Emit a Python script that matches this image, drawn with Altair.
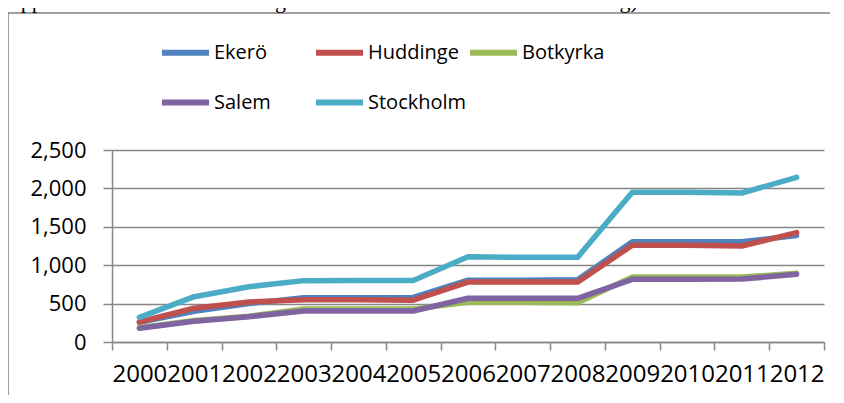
import altair as alt
import pandas as pd

years = ["2000", "2001", "2002", "2003", "2004", "2005", "2006",
         "2007", "2008", "2009", "2010", "2011", "2012"]
series_names = ["Ekerö", "Huddinge", "Botkyrka", "Salem", "Stockholm"]
ekero = [255, 400, 500, 577, 577, 580, 805, 805, 810, 1305, 1305, 1305, 1385]
huddinge = [260, 440, 520, 550, 550, 545, 780, 780, 780, 1260, 1260, 1250, 1425]
botkyrka = [185, 280, 335, 430, 430, 430, 516, 516, 512, 846, 846, 846, 894]
salem = [178, 270, 330, 404, 404, 404, 569, 569, 569, 816, 816, 820, 881]
stockholm = [321, 590, 720, 799, 800, 800, 1111, 1102, 1102, 1949, 1949, 1940, 2144]
colors = ["#4F81BD", "#C0504D", "#9BBB59", "#8064A2", "#4BACC6"]
y_ticks = [0, 500, 1000, 1500, 2000, 2500]
top_text = "r upplåtelserna avser fritidsfastigheter som inte behandlas i detta förslag)."

rows = []
for name, vals in zip(series_names, [ekero, huddinge, botkyrka, salem, stockholm]):
    for yr, v in zip(years, vals):
        rows.append({"year": yr, "series": name, "value": v})
df = pd.DataFrame(rows)

grey = "#868686"
font = "Open Sans"

lines = alt.Chart(df).mark_line(strokeWidth=5.5, strokeCap="round", strokeJoin="round").encode(
    x=alt.X("year:O", sort=years, bandPosition=0.5,
            scale=alt.Scale(type="band", paddingInner=0, paddingOuter=0),
            axis=alt.Axis(title=None, labelAngle=0, labelOverlap=False, labelFlush=False,
                          tickBand="extent", grid=False, tickSize=8, labelPadding=12,
                          labelFontSize=24, labelFont=font, labelColor="black",
                          domainColor=grey, tickColor=grey, domainWidth=1.5, tickWidth=1.5)),
    y=alt.Y("value:Q", scale=alt.Scale(domain=[0, 2500], nice=False),
            axis=alt.Axis(title=None, values=y_ticks, format=",d", tickSize=9, labelPadding=17,
                          labelFontSize=22, labelFont=font, labelColor="black",
                          grid=True, gridColor=grey, gridWidth=1.5,
                          domainColor=grey, tickColor=grey, domainWidth=1.5, tickWidth=1.5)),
    color=alt.Color("series:N", sort=series_names,
                    scale=alt.Scale(domain=series_names, range=colors),
                    legend=alt.Legend(title=None, orient="none", legendX=47, legendY=-124,
                                      direction="horizontal",
                                      columns=3, gridAlign="all", columnPadding=-10, rowPadding=11,
                                      symbolType="stroke", symbolSize=2209, symbolStrokeWidth=6,
                                      labelFontSize=20, labelFont=font, labelColor="black",
                                      labelOffset=2)),
)

one = pd.DataFrame({"t": [top_text]})
border_top = alt.Chart(one).mark_rule(stroke="#808080", strokeWidth=1.5).encode(
    x=alt.value(-104), x2=alt.value(740), y=alt.value(-137))
border_left = alt.Chart(one).mark_rule(stroke="#808080", strokeWidth=1.5).encode(
    x=alt.value(-104), y=alt.value(-137), y2=alt.value(245))
caption = alt.Chart(one).mark_text(font="Liberation Serif", fontSize=22, align="left",
                                   baseline="alphabetic", color="black").encode(
    x=alt.value(-115), y=alt.value(-142), text="t:N")

chart = alt.layer(border_top, border_left, lines, caption).properties(
    width=712, height=192,
    autosize=alt.AutoSizeParams(type="none"),
    padding={"left": 104, "top": 142, "right": 6, "bottom": 53},
).configure_view(stroke=None)

chart.save("out.html", embed_options={"renderer": "svg", "actions": False})
